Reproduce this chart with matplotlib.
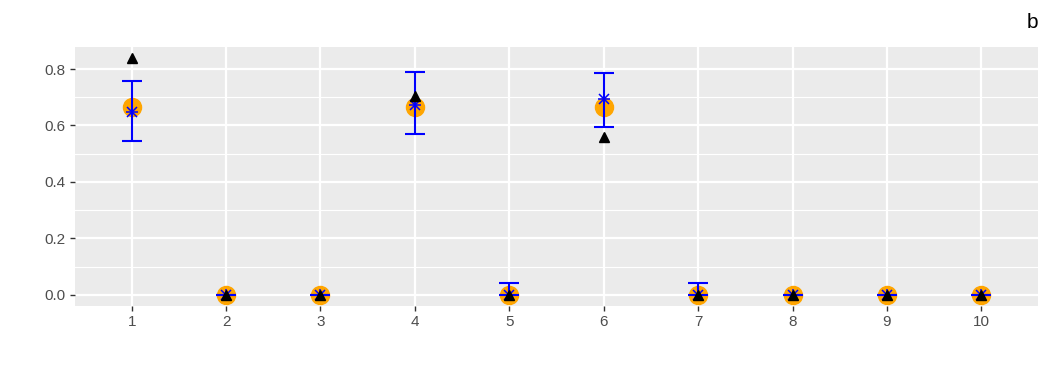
import matplotlib
matplotlib.use("Agg")
import matplotlib.pyplot as plt
import numpy as np

plt.rcParams['font.family'] = ['Liberation Sans', 'DejaVu Sans']

x = [1, 2, 3, 4, 5, 6, 7, 8, 9, 10]
truth = [0.667, 0, 0, 0.667, 0, 0.667, 0, 0, 0, 0]
est_mean = [0.648, 0, 0, 0.673, 0, 0.693, 0, 0, 0, 0]
err_low = [0.545, 0, 0, 0.570, 0, 0.595, 0, 0, 0, 0]
err_high = [0.758, 0, 0, 0.790, 0.041, 0.786, 0.041, 0, 0, 0]
other = [0.839, 0, 0, 0.704, 0, 0.559, 0, 0, 0, 0]
yticks = [0.0, 0.2, 0.4, 0.6, 0.8]

fig = plt.figure(figsize=(10.5, 3.75), dpi=100)
ax = fig.add_axes([75/1050, 1-306/375, (1038-75)/1050, (306-47)/375])
ax.set_facecolor('#EBEBEB')
for s in ax.spines.values():
    s.set_visible(False)

ax.set_xlim(0.4, 10.6)
ax.set_ylim(-0.040, 0.878)
ax.set_xticks(x)
ax.set_xticklabels([str(v) for v in x])
ax.set_yticks(yticks)
ax.set_yticklabels([f"{v:.1f}" for v in yticks])
ax.set_yticks([0.1, 0.3, 0.5, 0.7], minor=True)
ax.tick_params(axis='y', which='minor', length=0)
ax.tick_params(which='major', length=3.5, width=1, color='#333333', labelcolor='#4D4D4D', labelsize=11, pad=3)
ax.grid(True, which='major', color='white', linewidth=1.6)
ax.grid(True, which='minor', axis='y', color='white', linewidth=0.8)
ax.set_axisbelow(True)

ax.plot(x, truth, 'o', color='#FFA500', markersize=13, zorder=3)
lo = np.array(est_mean) - np.array(err_low)
hi = np.array(err_high) - np.array(est_mean)
ax.errorbar(x, est_mean, yerr=[lo, hi], fmt='none', ecolor='blue', elinewidth=1.5, capsize=7, capthick=1.5, zorder=4)
ax.plot(x, est_mean, '+', color='blue', markersize=9, markeredgewidth=1.1, zorder=5)
ax.plot(x, est_mean, 'x', color='blue', markersize=7, markeredgewidth=1.1, zorder=5)
ax.plot(x, other, '^', color='black', markersize=7, zorder=6)

fig.text(1032/1050, 1-22/375, 'b', fontsize=15, ha='center', va='center', color='black')

fig.savefig('out.png', dpi=100)
